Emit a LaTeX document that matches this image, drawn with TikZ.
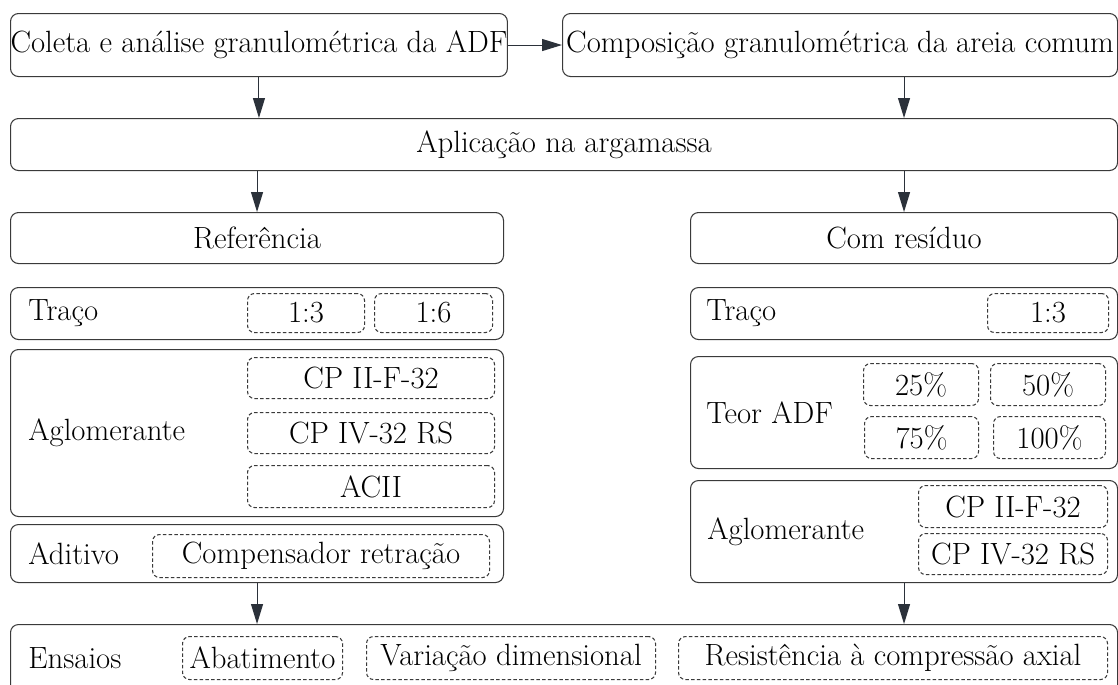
\documentclass[tikz,border=0pt]{standalone}
\usepackage{tikz}
\usetikzlibrary{arrows.meta,positioning}

\definecolor{edge}{HTML}{3A3A3A}
\definecolor{tip}{HTML}{2B313A}

\begin{document}
\begin{tikzpicture}[
    x=0.2mm, y=-0.2mm,
    font=\fontsize{17.5}{20}\selectfont,
    >={Triangle[length=4mm, width=2.4mm]},
    box/.style={draw=edge, line width=0.6pt, rounded corners=1.6mm,
                anchor=north west, inner sep=0pt},
    opt/.style={draw=edge, line width=0.6pt, dash pattern=on 0.7mm off 0.45mm,
                rounded corners=1.4mm, anchor=north west, inner sep=0pt},
    lbl/.style={inner sep=0pt, anchor=west},
    flow/.style={->, draw=edge, line width=0.6pt, color=tip},
]
\useasboundingbox (0,0) rectangle (1118,685);

% --- top row ---
\node[box, minimum width=98.6mm, minimum height=12.6mm] (coleta) at (10,13)
      {Coleta e análise granulométrica da ADF};
\node[box, minimum width=111mm, minimum height=12.6mm] (compos) at (562,13)
      {Composição granulométrica da areia comum};
\node[box, minimum width=221.4mm, minimum height=10.4mm] (aplic) at (10,118)
      {Aplicação na argamassa};

% --- two branches ---
\node[box, minimum width=98.6mm, minimum height=10.2mm] (ref)    at (10,212)  {Referência};
\node[box, minimum width=85.4mm, minimum height=10.2mm] (comres) at (690,212) {Com resíduo};

% --- Referência side ---
\node[box, minimum width=98.6mm, minimum height=10.4mm] (tracoL) at (10,287) {};
\node[lbl, right=3.6mm of tracoL.west] {Traço};
\node[opt, minimum width=23.4mm, minimum height=7.8mm] (t13L) at (247,293) {1:3};
\node[opt, minimum width=23.6mm, minimum height=7.8mm] (t16L) at (374,293) {1:6};

\node[box, minimum width=98.6mm, minimum height=33.4mm] (aglomL) at (10,349) {};
\node[lbl, right=3.6mm of aglomL.west] {Aglomerante};
\node[opt, minimum width=49.4mm, minimum height=8.2mm] (cp2L) at (247,357) {CP II-F-32};
\node[opt, minimum width=49.4mm, minimum height=8.2mm] (cp4L) at (247,412) {CP IV-32 RS};
\node[opt, minimum width=49.4mm, minimum height=8.4mm] (acii) at (247,465) {ACII};

\node[box, minimum width=98.6mm, minimum height=11.6mm] (aditivo) at (10,524) {};
\node[lbl, right=3.6mm of aditivo.west] {Aditivo};
\node[opt, minimum width=67.4mm, minimum height=8.6mm] (comp) at (152,534) {Compensador retração};

% --- Com resíduo side ---
\node[box, minimum width=85.4mm, minimum height=10.4mm] (tracoR) at (690,287) {};
\node[lbl, right=3.2mm of tracoR.west] {Traço};
\node[opt, minimum width=24.2mm, minimum height=7.8mm] (t13R) at (987,293) {1:3};

\node[box, minimum width=85.4mm, minimum height=22.4mm] (teor) at (690,356) {};
\node[lbl, right=3.2mm of teor.west] {Teor ADF};
\node[opt, minimum width=23mm, minimum height=8.4mm]   (p25)  at (863,363) {25\%};
\node[opt, minimum width=23mm, minimum height=8.4mm]   (p50)  at (990,363) {50\%};
\node[opt, minimum width=22.8mm, minimum height=8.4mm] (p75)  at (864,416) {75\%};
\node[opt, minimum width=22.4mm, minimum height=8.4mm] (p100) at (993,416) {100\%};

\node[box, minimum width=85.4mm, minimum height=20.4mm] (aglomR) at (690,480) {};
\node[lbl, right=3.4mm of aglomR.west] {Aglomerante};
\node[opt, minimum width=37.8mm, minimum height=8.4mm] (cp2R) at (918,485) {CP II-F-32};
\node[opt, minimum width=37.8mm, minimum height=8.2mm] (cp4R) at (918,533) {CP IV-32 RS};

% --- tests (runs past the lower edge) ---
\node[box, minimum width=221.4mm, minimum height=16mm] (ensaios) at (10,624) {};
\node[lbl] at (28,658) {Ensaios};
\node[opt, minimum width=32mm, minimum height=8.6mm]   (abat) at (182,636) {Abatimento};
\node[opt, minimum width=57.8mm, minimum height=8.6mm] (vari) at (366,636) {Variação dimensional};
\node[opt, minimum width=85.8mm, minimum height=8.6mm] (resi) at (678,636) {Resistência à compressão axial};

% connectors
\draw[flow] (coleta) -- (compos);
\draw[flow] (coleta.south) -- (coleta.south |- aplic.north);
\draw[flow] (comres.north |- compos.south) -- (comres.north |- aplic.north);
\draw[flow] (ref.north |- aplic.south) -- (ref.north);
\draw[flow] (comres.north |- aplic.south) -- (comres.north);
\draw[flow] (aditivo.south) -- (aditivo.south |- ensaios.north);
\draw[flow] (aglomR.south) -- (aglomR.south |- ensaios.north);

\end{tikzpicture}
\end{document}
